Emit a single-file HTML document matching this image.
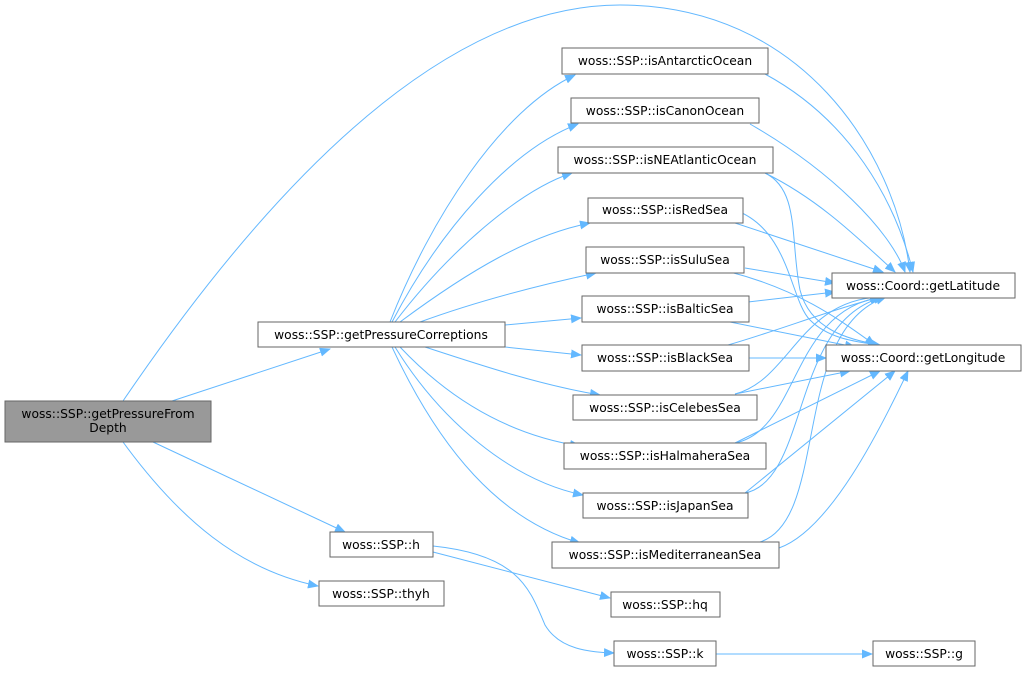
<!DOCTYPE html>
<html><head><meta charset="utf-8"><style>
html,body{margin:0;padding:0;background:#fff}
svg{display:block}
text{font-family:"DejaVu Sans","Liberation Sans",sans-serif;font-size:12.3px;fill:#000}
rect{fill:#fff;stroke:#666;stroke-width:1}
path{fill:none;stroke:#63b8ff;stroke-width:1}
</style></head><body>
<svg width="1027" height="673" viewBox="0 0 1027 673" xmlns="http://www.w3.org/2000/svg">
<defs><marker id="a" markerWidth="11" markerHeight="9" refX="10" refY="4.5" orient="auto" markerUnits="userSpaceOnUse"><polygon points="0,0 11,4.5 0,9" fill="#63b8ff"/></marker></defs>
<g marker-end="url(#a)">
<path d="M123,401 C280,170 450,5 620,5 C800,5 895,150 910,272"/>
<path d="M172,401 L330,349"/>
<path d="M153,442 L345,532"/>
<path d="M123,442 C180,520 240,570 318,586"/>
<path d="M390,322 C430,220 500,110 575,75"/>
<path d="M392,322 C440,230 510,150 578,124"/>
<path d="M395,322 C450,250 520,190 572,173"/>
<path d="M400,322 C470,270 530,235 590,223"/>
<path d="M420,322 C480,300 540,285 596,273"/>
<path d="M505,325 L581,318"/>
<path d="M505,347 L581,355"/>
<path d="M425,347 C480,365 540,385 600,395"/>
<path d="M400,347 C450,400 510,435 580,446"/>
<path d="M395,347 C440,420 510,480 583,495"/>
<path d="M392,347 C440,450 500,520 580,543"/>
<path d="M433,552 L610,598"/>
<path d="M433,546 C520,555 530,590 545,625 C560,650 590,652 614,653"/>
<path d="M716,654 L872,654"/>
<path d="M765,74 C850,120 895,200 913,272"/>
<path d="M750,124 C830,170 890,230 905,272"/>
<path d="M765,173 C820,200 860,240 895,272"/>
<path d="M735,223 L883,272"/>
<path d="M745,268 L835,283"/>
<path d="M748,302 L835,292"/>
<path d="M728,345 C780,330 830,310 880,297"/>
<path d="M735,394 C790,380 800,300 880,297"/>
<path d="M735,443 C800,430 790,310 882,297"/>
<path d="M745,493 C810,480 790,320 884,297"/>
<path d="M760,542 C830,520 790,330 886,297"/>
<path d="M765,173 C800,190 790,240 800,290 C810,330 850,340 880,345"/>
<path d="M735,210 C790,230 790,300 810,320 C830,340 860,342 878,345"/>
<path d="M730,272 C800,290 840,320 875,345"/>
<path d="M730,322 L855,347"/>
<path d="M749,358 L826,358"/>
<path d="M735,394 L850,371"/>
<path d="M735,443 L880,371"/>
<path d="M745,493 L895,371"/>
<path d="M779,548 C830,530 880,430 908,371"/>
</g>
<rect x="5" y="401" width="206" height="41" style="fill:#999"/>
<text x="108" y="418" text-anchor="middle">woss::SSP::getPressureFrom</text>
<text x="108" y="432" text-anchor="middle">Depth</text>
<rect x="258" y="322" width="247" height="25"/><text x="381" y="339" text-anchor="middle">woss::SSP::getPressureCorreptions</text>
<rect x="330" y="532" width="103" height="25"/><text x="381" y="549" text-anchor="middle">woss::SSP::h</text>
<rect x="319" y="581" width="125" height="25"/><text x="381" y="598" text-anchor="middle">woss::SSP::thyh</text>
<rect x="562" y="48" width="206" height="26"/><text x="665" y="65" text-anchor="middle">woss::SSP::isAntarcticOcean</text>
<rect x="571" y="98" width="188" height="25"/><text x="665" y="115" text-anchor="middle">woss::SSP::isCanonOcean</text>
<rect x="558" y="147" width="215" height="26"/><text x="665" y="164" text-anchor="middle">woss::SSP::isNEAtlanticOcean</text>
<rect x="588" y="198" width="155" height="25"/><text x="665" y="214" text-anchor="middle">woss::SSP::isRedSea</text>
<rect x="586" y="247" width="158" height="26"/><text x="665" y="264" text-anchor="middle">woss::SSP::isSuluSea</text>
<rect x="582" y="296" width="167" height="26"/><text x="665" y="313" text-anchor="middle">woss::SSP::isBalticSea</text>
<rect x="582" y="345" width="167" height="26"/><text x="665" y="362" text-anchor="middle">woss::SSP::isBlackSea</text>
<rect x="573" y="395" width="184" height="25"/><text x="665" y="412" text-anchor="middle">woss::SSP::isCelebesSea</text>
<rect x="564" y="443" width="202" height="26"/><text x="665" y="460" text-anchor="middle">woss::SSP::isHalmaheraSea</text>
<rect x="583" y="493" width="165" height="25"/><text x="665" y="510" text-anchor="middle">woss::SSP::isJapanSea</text>
<rect x="552" y="542" width="227" height="26"/><text x="665" y="559" text-anchor="middle">woss::SSP::isMediterraneanSea</text>
<rect x="611" y="592" width="109" height="25"/><text x="665" y="609" text-anchor="middle">woss::SSP::hq</text>
<rect x="614" y="641" width="102" height="25"/><text x="665" y="658" text-anchor="middle">woss::SSP::k</text>
<rect x="873" y="641" width="102" height="25"/><text x="924" y="658" text-anchor="middle">woss::SSP::g</text>
<rect x="832" y="273" width="183" height="25"/><text x="923" y="290" text-anchor="middle">woss::Coord::getLatitude</text>
<rect x="826" y="345" width="195" height="26"/><text x="923" y="362" text-anchor="middle">woss::Coord::getLongitude</text>
</svg>
</body></html>
